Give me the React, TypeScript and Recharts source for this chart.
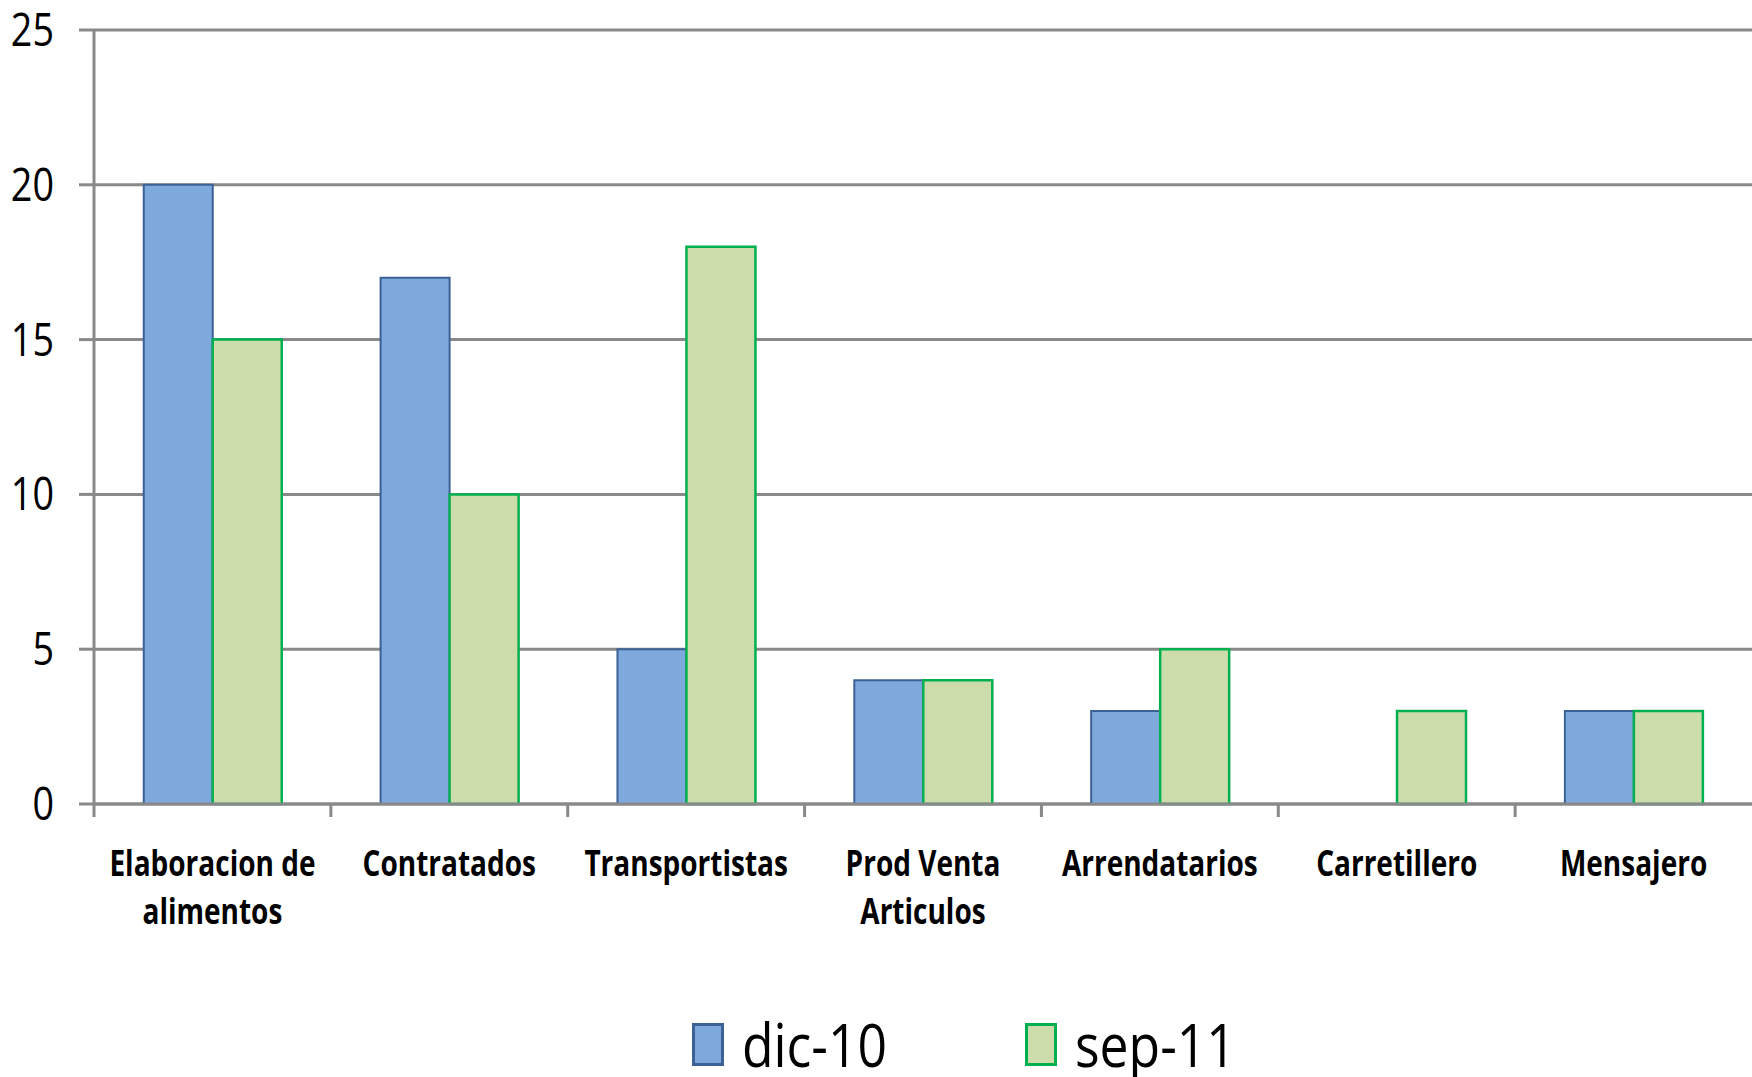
import React from "react";
import { BarChart, Bar, XAxis, YAxis, CartesianGrid, Legend } from "recharts";

const categories = [
  "Elaboracion de\nalimentos",
  "Contratados",
  "Transportistas",
  "Prod Venta\nArticulos",
  "Arrendatarios",
  "Carretillero",
  "Mensajero",
];
const dic10: (number | null)[] = [20, 17, 5, 4, 3, null, 3];
const sep11: (number | null)[] = [15, 10, 18, 4, 5, 3, 3];
const yTicks = [0, 5, 10, 15, 20, 25];
const seriesNames = ["dic-10", "sep-11"];

const data = categories.map((c, i) => ({ name: c, dic10: dic10[i], sep11: sep11[i] }));

const W = 1752;
const H = 1077;
const Y_AXIS_W = 94;
const MARGIN = { top: 30, right: 0, left: 0, bottom: 0 };
const BAND = (W - Y_AXIS_W - MARGIN.right - MARGIN.left) / categories.length;

const FONT = "'Open Sans', sans-serif";
const GRID = "#898989";

const BLUE_FILL = "#7EA9DD";
const BLUE_STROKE = "#3B6196";
const GREEN_FILL = "#CCDCAB";
const GREEN_STROKE = "#00B050";

function XTick(props: any) {
  const { x, y, payload } = props;
  const lines = String(payload.value).split("\n");
  return (
    <g>
      <line x1={x - BAND / 2} x2={x - BAND / 2} y1={y} y2={y + 13} stroke={GRID} strokeWidth={3} />
      {lines.map((l, i) => (
        <text
          key={i}
          transform={`translate(${x},${y + 72 + i * 48}) scale(0.8,1)`}
          textAnchor="middle"
          fontFamily={FONT}
          fontWeight="bold"
          fontSize={35}
          fill="#000"
        >
          {l}
        </text>
      ))}
    </g>
  );
}

function YTick(props: any) {
  const { x, y, payload } = props;
  return (
    <text
      transform={`translate(${x},${y + 16}) scale(0.82,1)`}
      textAnchor="end"
      fontFamily={FONT}
      fontSize={46}
      fill="#000"
    >
      {payload.value}
    </text>
  );
}

function LegendContent() {
  const items = [
    { name: seriesNames[0], fill: BLUE_FILL, stroke: BLUE_STROKE },
    { name: seriesNames[1], fill: GREEN_FILL, stroke: GREEN_STROKE },
  ];
  return (
    <div
      style={{
        display: "flex",
        alignItems: "center",
        paddingLeft: 692,
        paddingTop: 52,
        height: 50,
        fontFamily: FONT,
      }}
    >
      {items.map((it, i) => (
        <div key={i} style={{ display: "flex", alignItems: "center", width: 333, flex: "none" }}>
          <div
            style={{
              width: 26,
              height: 37,
              background: it.fill,
              border: `3px solid ${it.stroke}`,
              marginRight: 18,
              flex: "none",
            }}
          />
          <span
            style={{
              fontSize: 60,
              color: "#000",
              lineHeight: "50px",
              display: "inline-block",
              transform: "scaleX(0.86)",
              transformOrigin: "left center",
              whiteSpace: "nowrap",
            }}
          >
            {it.name}
          </span>
        </div>
      ))}
    </div>
  );
}

export default function App() {
  return (
    <div style={{ position: "absolute", left: 0, top: 0, background: "#fff" }}>
      <BarChart
        width={W}
        height={H}
        data={data}
        margin={MARGIN}
        barGap={0}
        barCategoryGap="21%"
      >
        <CartesianGrid vertical={false} stroke={GRID} strokeWidth={3} />
        <XAxis
          dataKey="name"
          height={163}
          interval={0}
          tickLine={false}
          tickSize={0}
          tickMargin={0}
          axisLine={{ stroke: GRID, strokeWidth: 3 }}
          tick={<XTick />}
        />
        <YAxis
          width={Y_AXIS_W}
          domain={[0, 25]}
          ticks={yTicks}
          interval={0}
          tickSize={15}
          tickMargin={25}
          axisLine={{ stroke: GRID, strokeWidth: 3 }}
          tickLine={{ stroke: GRID, strokeWidth: 3 }}
          tick={<YTick />}
        />
        <Legend verticalAlign="bottom" height={110} content={<LegendContent />} />
        <Bar
          dataKey="dic10"
          name={seriesNames[0]}
          fill={BLUE_FILL}
          stroke={BLUE_STROKE}
          strokeWidth={2}
          isAnimationActive={false}
        />
        <Bar
          dataKey="sep11"
          name={seriesNames[1]}
          fill={GREEN_FILL}
          stroke={GREEN_STROKE}
          strokeWidth={2.5}
          isAnimationActive={false}
        />
      </BarChart>
    </div>
  );
}
